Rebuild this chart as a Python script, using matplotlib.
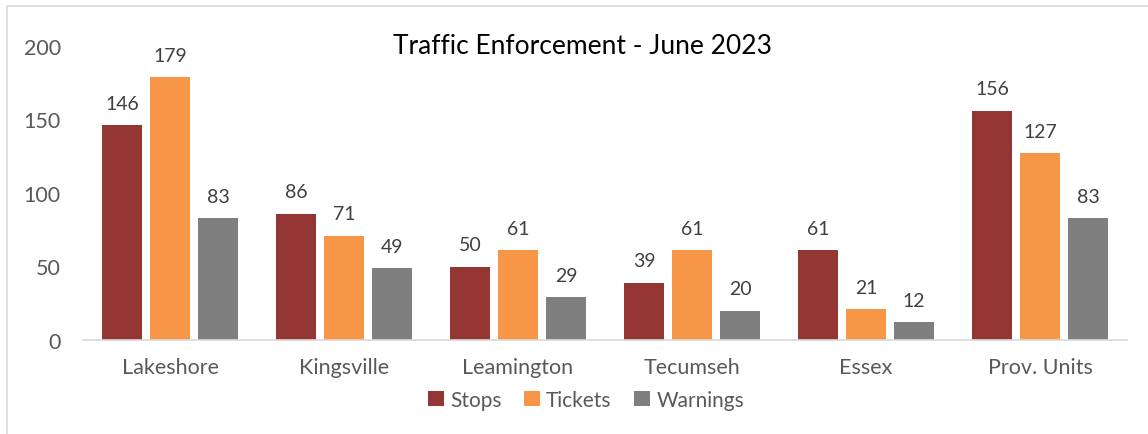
import numpy as np
import matplotlib
matplotlib.use("Agg")
import matplotlib.pyplot as plt
from matplotlib.patches import Rectangle

plt.rcParams['font.family'] = ['Lato', 'DejaVu Sans']

# --- données ---
categories = ['Lakeshore', 'Kingsville', 'Leamington', 'Tecumseh', 'Essex', 'Prov. Units']
stops = [146, 86, 50, 39, 61, 156]
tickets = [179, 71, 61, 61, 21, 127]
warnings = [83, 49, 29, 20, 12, 83]
series_names = ['Stops', 'Tickets', 'Warnings']
colors = ['#943634', '#F79646', '#7F7F7F']

fig = plt.figure(figsize=(11.48, 4.35), dpi=100)
# cadre du graphique (bas et droite hors image)
fig.patches.append(Rectangle((7 / 1148, -0.05), 1.0, 1.05 - 7 / 435, transform=fig.transFigure,
                             fill=False, edgecolor='#D9D9D9', linewidth=1.2))

ax = fig.add_axes([83 / 1148, 1 - 341 / 435, 1044 / 1148, 294 / 435])

x = np.arange(len(categories))
width = 0.23
step = 0.276
for i, (vals, name, col) in enumerate(zip([stops, tickets, warnings], series_names, colors)):
    bars = ax.bar(x + (i - 1) * step, vals, width, color=col, label=name)
    for b, v in zip(bars, vals):
        ax.text(b.get_x() + b.get_width() / 2, v + 9, str(v), ha='center', va='bottom',
                fontsize=14, color='#404040')

ax.set_xlim(-0.5, len(categories) - 0.5)
ax.set_ylim(0, 200)
ax.set_yticks([0, 50, 100, 150, 200])
ax.set_xticks(x)
ax.set_xticklabels(categories)
ax.tick_params(axis='both', length=0, labelsize=15.5, labelcolor='#595959')
ax.tick_params(axis='y', pad=16)
ax.tick_params(axis='x', pad=12)
for s in ['top', 'right', 'left']:
    ax.spines[s].set_visible(False)
ax.spines['bottom'].set_color('#D9D9D9')
ax.spines['bottom'].set_linewidth(1.2)

fig.text(582 / 1148, 1 - 47 / 435, 'Traffic Enforcement - June 2023', ha='center', va='center',
         fontsize=19, color='#000000')

leg = fig.legend(loc='center', bbox_to_anchor=(586 / 1148, 1 - 401 / 435), ncol=3, frameon=False,
                 fontsize=15, handlelength=0.75, handleheight=0.75, handletextpad=0.3,
                 columnspacing=1.1, labelcolor='#595959')

fig.savefig('out.png', dpi=100)
